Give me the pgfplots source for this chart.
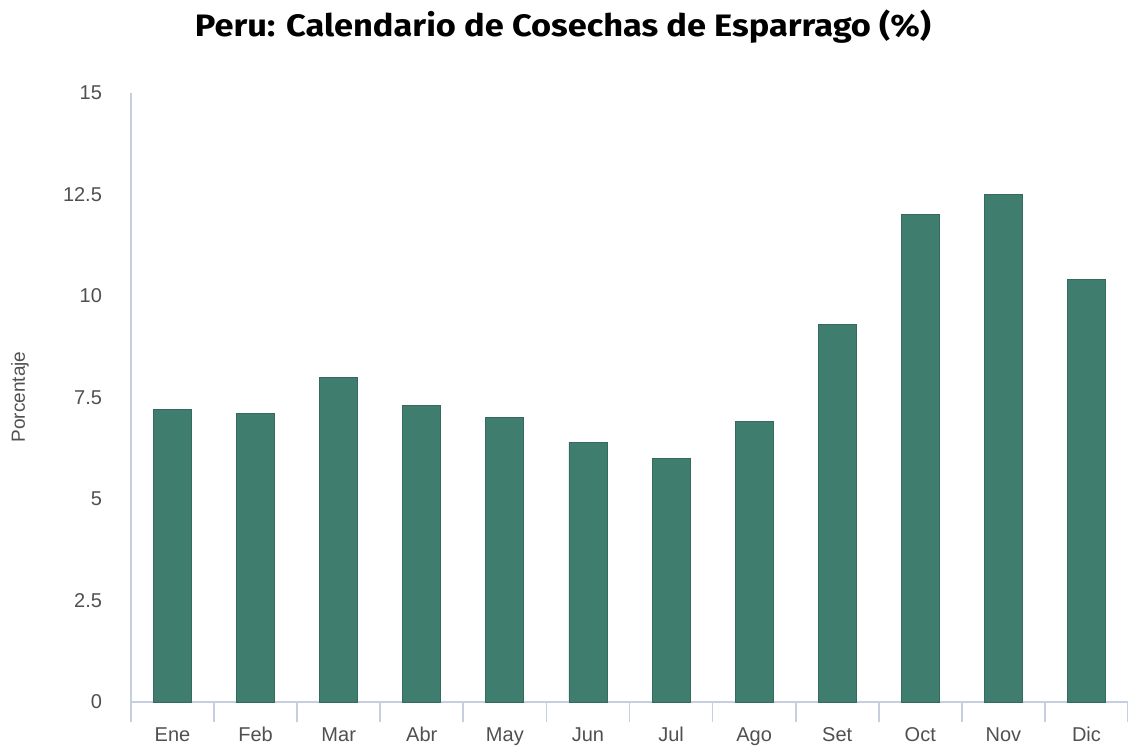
\documentclass[border=0pt]{standalone}
\usepackage{fontspec}
\setmainfont{Liberation Sans}
\newfontfamily\titlefont{Fira Sans}
\usepackage{pgfplots}
\pgfplotsset{compat=1.18}
\definecolor{barcol}{HTML}{3F7D6F}
\definecolor{axcol}{HTML}{C5CFDF}
\definecolor{lblcol}{HTML}{505050}
\begin{document}
\begin{tikzpicture}
\path[use as bounding box] (-65.5pt,-21.5pt) rectangle (498.5pt,351pt);
\begin{axis}[
  at={(0pt,0pt)}, anchor=south west,
  scale only axis, width=498.5pt, height=304.5pt,
  xmin=-0.5, xmax=11.5, ymin=0, ymax=15,
  axis x line*=bottom, axis y line*=left,
  axis line style={axcol, line width=0.9pt, -},
  ytick={0,2.5,5,7.5,10,12.5,15},
  yticklabels={0,2.5,5,7.5,10,12.5,15},
  xtick={0,...,11},
  xticklabels={Ene,Feb,Mar,Abr,May,Jun,Jul,Ago,Set,Oct,Nov,Dic},
  minor xtick={-0.5,0.5,...,11.5},
  major tick length=0pt,
  minor tick length=10pt,
  xtick style={draw=none},
  minor x tick style={draw=axcol, line width=0.9pt},
  tick align=outside,
  ytick style={draw=none},
  ticklabel style={font=\fontsize{10}{12}\selectfont, text=lblcol},
  yticklabel style={anchor=east, xshift=-11pt},
  xticklabel style={anchor=north, yshift=-8pt, text height=1.6ex, text depth=0.3ex},
  /pgf/number format/assume math mode=true,
  ybar, bar width=19pt,
  clip=false,
]
\addplot[fill=barcol, draw=barcol!85!black, line width=0.4pt] coordinates {
 (0,7.2) (1,7.1) (2,8.0) (3,7.3) (4,7.0) (5,6.4) (6,6.0) (7,6.9) (8,9.3) (9,12.0) (10,12.5) (11,10.4)
};
\end{axis}
\node[font=\titlefont\bfseries\fontsize{15.5}{18}\selectfont] at (216pt,337.5pt) {\scalebox{1.11}[1]{Peru: Calendario de Cosechas de Esparrago (\%)}};
\node[rotate=90, font=\fontsize{9.5}{11}\selectfont, text=lblcol] at (-55.5pt,152.5pt) {Porcentaje};
\end{tikzpicture}
\end{document}
